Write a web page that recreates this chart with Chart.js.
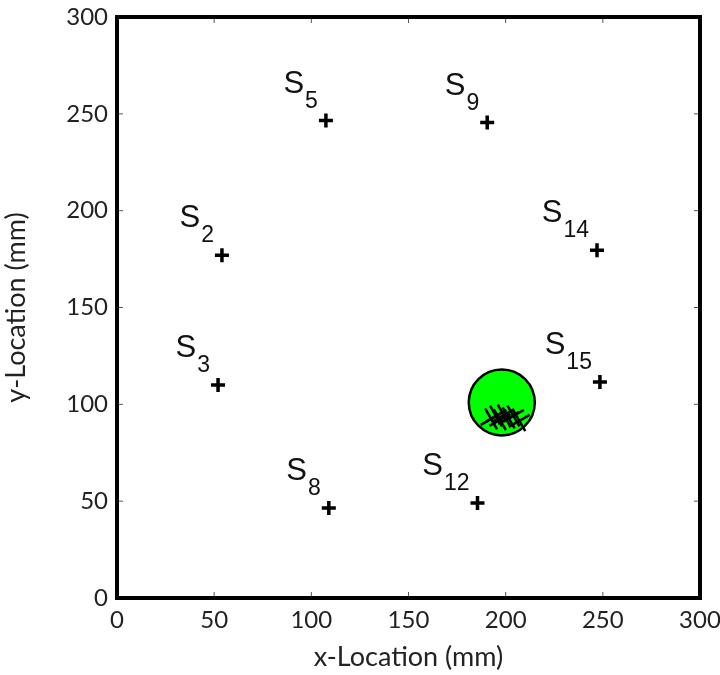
<!DOCTYPE html>
<html>
<head>
<meta charset="utf-8">
<script src="https://cdn.jsdelivr.net/npm/chart.js@4"></script>
<style>
  body { margin: 0; background: #fff; }
  #wrap { width: 720px; height: 675px; }
</style>
</head>
<body>
<div id="wrap"><canvas id="myChart"></canvas></div>
<script>
// sensor positions (mm)
const sensorNames = ["5", "9", "2", "14", "3", "15", "8", "12"];
const sensorX = [107.5, 190.5, 54, 247, 52, 248.5, 109, 185.5];
const sensorY = [246.5, 245.5, 177, 179.5, 110, 111.5, 46.5, 49];

// estimated source location (green circle) and the cluster of estimates
const sourceX = [198];
const sourceY = [101];
const estX = [192.5, 195, 197, 199, 201.5, 204, 207];
const estY = [92.5, 94, 92, 94.5, 93, 94, 91.5];

const tickValues = [0, 50, 100, 150, 200, 250, 300];

const toPts = (xs, ys) => xs.map((x, i) => ({ x: x, y: ys[i] }));

// frame + inward ticks + S_n labels
const framePlugin = {
  id: "frame",
  afterDatasetsDraw(chart) {
    const c = chart.ctx;
    const a = chart.chartArea;
    const xs = chart.scales.x, ys = chart.scales.y;
    c.save();
    // inward ticks on all four sides
    c.strokeStyle = "#555";
    c.lineWidth = 1;
    c.beginPath();
    tickValues.forEach(v => {
      const px = xs.getPixelForValue(v);
      c.moveTo(px, a.bottom); c.lineTo(px, a.bottom - 6);
      c.moveTo(px, a.top); c.lineTo(px, a.top + 6);
      const py = ys.getPixelForValue(v);
      c.moveTo(a.left, py); c.lineTo(a.left + 6, py);
      c.moveTo(a.right, py); c.lineTo(a.right - 6, py);
    });
    c.stroke();
    // heavy frame
    c.strokeStyle = "#000";
    c.lineWidth = 4;
    c.strokeRect(a.left, a.top, a.right - a.left, a.bottom - a.top);

    // sensor labels
    c.fillStyle = "#111";
    c.textBaseline = "alphabetic";
    sensorNames.forEach((n, i) => {
      const px = xs.getPixelForValue(sensorX[i]);
      const py = ys.getPixelForValue(sensorY[i]);
      c.font = "23px 'Liberation Sans', Arial, sans-serif";
      const subW = c.measureText(n).width;
      const subRight = px - 8;
      c.textAlign = "right";
      c.fillText(n, subRight, py - 13);
      c.font = "31px 'Liberation Sans', Arial, sans-serif";
      c.fillText("S", subRight - subW - 1, py - 28);
    });
    c.restore();
  }
};

const ctx = document.querySelector("#myChart");

new Chart(ctx, {
  type: "scatter",
  data: {
    datasets: [
      {
        label: "source",
        data: toPts(sourceX, sourceY),
        pointStyle: "circle",
        pointRadius: 33,
        backgroundColor: "#00ff00",
        borderColor: "#000",
        borderWidth: 2.5,
        order: 2
      },
      {
        label: "estimates",
        data: toPts(estX, estY),
        pointStyle: "cross",
        pointRadius: 12,
        rotation: 60,
        borderColor: "#000",
        borderWidth: 2.5,
        order: 1
      },
      {
        label: "sensors",
        data: toPts(sensorX, sensorY),
        pointStyle: "cross",
        pointRadius: 7,
        borderColor: "#000",
        borderWidth: 3.5,
        order: 0
      }
    ]
  },
  options: {
    responsive: true,
    maintainAspectRatio: false,
    animation: false,
    layout: { autoPadding: false, padding: { top: 17, right: 20, left: 0, bottom: 0 } },
    plugins: {
      legend: false,
      tooltip: { enabled: false }
    },
    scales: {
      x: {
        type: "linear",
        min: 0, max: 300,
        afterFit(scale) {
          scale.height = 77;
          scale.paddingLeft = 0;
          scale.paddingRight = 0;
        },
        afterBuildTicks(scale) { scale.ticks = tickValues.map(v => ({ value: v })); },
        grid: { display: false, drawTicks: false },
        border: { display: false },
        ticks: {
          padding: 8,
          color: "#222",
          font: { family: "Lato, 'Open Sans', sans-serif", size: 24 }
        },
        title: {
          display: true,
          text: "x-Location (mm)",
          color: "#222",
          padding: { top: 0, bottom: 2 },
          font: { family: "Lato, 'Open Sans', sans-serif", size: 27 }
        }
      },
      y: {
        type: "linear",
        min: 0, max: 300,
        afterFit(scale) {
          scale.width = 117;
          scale.paddingTop = 0;
          scale.paddingBottom = 0;
        },
        afterBuildTicks(scale) { scale.ticks = tickValues.map(v => ({ value: v })); },
        grid: { display: false, drawTicks: false },
        border: { display: false },
        ticks: {
          padding: 9,
          color: "#222",
          font: { family: "Lato, 'Open Sans', sans-serif", size: 24 }
        },
        title: {
          display: true,
          text: "y-Location (mm)",
          color: "#222",
          padding: { top: 0, bottom: 14 },
          font: { family: "Lato, 'Open Sans', sans-serif", size: 27 }
        }
      }
    }
  },
  plugins: [framePlugin]
});
</script>
</body>
</html>
